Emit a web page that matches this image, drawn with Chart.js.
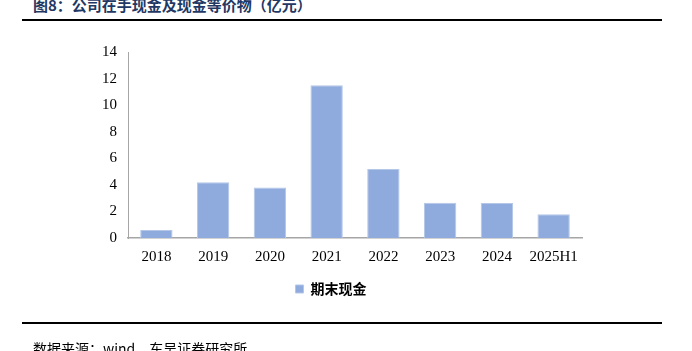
<!DOCTYPE html>
<html>
<head>
<meta charset="utf-8">
<script src="https://cdn.jsdelivr.net/npm/chart.js@4"></script>
<style>
  body { margin: 0; background: #fff; width: 692px; height: 351px; overflow: hidden; position: relative; }
  #titulo { position: absolute; left: 33px; top: -6px; font: bold 15px "Noto Sans CJK SC", "Liberation Serif", serif; color: #1F3864; white-space: nowrap; }
  .linea { position: absolute; left: 22px; width: 640px; height: 2px; background: #000; }
  #fuente { position: absolute; left: 33px; top: 338px; font: 14px "Noto Sans CJK SC", serif; color: #000; white-space: nowrap; }
  #grafico { position: absolute; left: 0; top: 0; }
</style>
</head>
<body>
<div id="titulo">图8：公司在手现金及现金等价物（亿元）</div>
<div class="linea" style="top:19px"></div>
<canvas id="grafico" width="692" height="351"></canvas>
<div class="linea" style="top:322px"></div>
<div id="fuente">数据来源：wind，东吴证券研究所</div>
<script>
// datos
const anios = ['2018', '2019', '2020', '2021', '2022', '2023', '2024', '2025H1']
const efectivoFinal = [0.6, 4.2, 3.8, 11.5, 5.2, 2.65, 2.63, 1.78]
const nombreSerie = '期末现金'
const ticksY = [0, 2, 4, 6, 8, 10, 12, 14]

const ctx = document.getElementById('grafico').getContext('2d')
const myChart = new Chart(ctx, {
    type: 'bar',
    data: {
        labels: anios,
        datasets: [{
            label: nombreSerie,
            data: efectivoFinal,
            backgroundColor: '#8FAADC',
            borderColor: '#B4C7E7',
            borderWidth: 1,
            categoryPercentage: 0.57,
            barPercentage: 1
        }]
    },
    options: {
        responsive: false,
        animation: false,
        layout: {
            padding: { left: 80, right: 110, top: 52, bottom: 45 }
        },
        scales: {
            x: {
                grid: { display: false, drawTicks: false },
                border: { color: '#A6A6A6', width: 1.5 },
                ticks: { color: '#000', font: { family: 'Liberation Serif', size: 15 }, padding: 10, maxRotation: 0 }
            },
            y: {
                min: 0,
                max: 14,
                afterBuildTicks: (s) => { s.ticks = ticksY.map(v => ({ value: v })) },
                afterFit: (s) => { s.width = 48 },
                grid: { display: false, drawTicks: true, tickLength: 5, tickColor: '#A6A6A6' },
                border: { color: '#A6A6A6', width: 1 },
                ticks: { color: '#000', font: { family: 'Liberation Serif', size: 15 }, padding: 6 }
            }
        },
        plugins: {
            legend: {
                position: 'bottom',
                labels: {
                    boxWidth: 8,
                    boxHeight: 8,
                    padding: 6,
                    color: '#000',
                    font: { family: 'Noto Sans CJK SC', size: 14, weight: 'bold' }
                }
            },
            tooltip: { enabled: false }
        }
    }
})
</script>
</body>
</html>
